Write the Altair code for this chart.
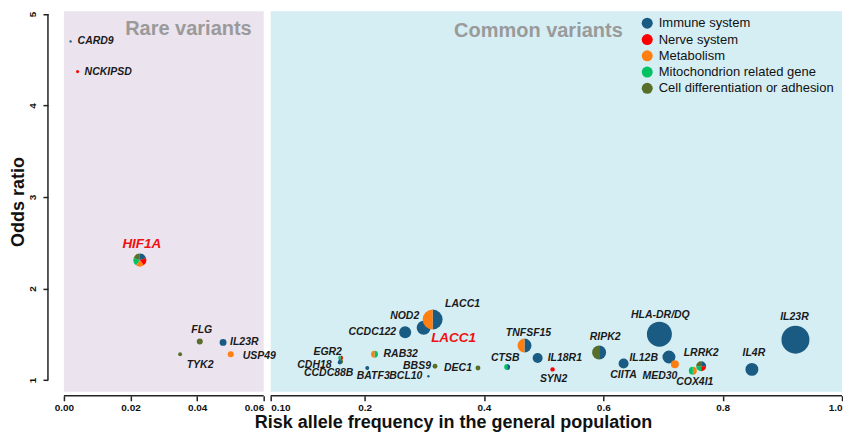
import altair as alt
import numpy as np
import pandas as pd

IMM = "Immune system"
NER = "Nerve system"
MET = "Metabolism"
MIT = "Mitochondrion related gene"
CEL = "Cell differentiation or adhesion"
CATEGORIES = [IMM, NER, MET, MIT, CEL]
CAT_COLORS = ["#1a5b83", "#fe0000", "#ff7f12", "#00c262", "#586f2a"]

# ---- rare variants (left panel) ----
rare_genes = ["CARD9", "NCKIPSD", "HIF1A", "FLG", "IL23R", "TYK2", "USP49"]
rare_freq = [0.002, 0.0041, 0.0228, 0.0408, 0.0478, 0.0349, 0.0501]
rare_or = [4.70, 4.37, 2.31, 1.42, 1.41, 1.28, 1.28]
rare_weight = [1.4, 2.3, 42, 9, 12, 4, 9]
rare_cats = [[IMM], [NER], [IMM, NER, MET, MIT, CEL], [CEL], [IMM], [CEL], [MET]]

# ---- common variants (right panel) ----
common_genes = ["EGR2", "CDH18", "CCDC88B", "BATF3", "RAB32", "CCDC122", "NOD2",
                "LACC1", "BBS9", "BCL10", "DEC1", "CTSB", "TNFSF15", "IL18R1",
                "SYN2", "RIPK2", "CIITA", "HLA-DR/DQ", "IL12B", "MED30", "COX4I1",
                "LRRK2", "IL4R", "IL23R"]
common_freq = [0.1745, 0.1745, 0.1735, 0.2045, 0.2167, 0.268, 0.299,
               0.314, 0.318, 0.307, 0.390, 0.439, 0.468, 0.490,
               0.515, 0.593, 0.634, 0.694, 0.710, 0.720, 0.750,
               0.764, 0.849, 0.922]
common_or = [1.24, 1.20, 1.19, 1.13, 1.28, 1.52, 1.57,
             1.66, 1.15, 1.04, 1.13, 1.14, 1.375, 1.24,
             1.115, 1.30, 1.18, 1.50, 1.25, 1.17, 1.10,
             1.15, 1.115, 1.44]
common_weight = [6, 6, 4, 4, 12, 36, 49,
                 100, 6, 1.4, 6, 9, 49, 25,
                 5, 49, 25, 156, 42, 16, 16,
                 25, 42, 196]
common_cats = [[NER, MIT], [CEL, IMM], [IMM], [IMM], [MIT, MET], [IMM], [IMM],
               [IMM, MET], [CEL], [IMM], [CEL], [IMM, MIT], [IMM, MET], [IMM],
               [NER], [IMM, CEL], [IMM], [IMM], [IMM], [MET], [MET, MIT],
               [IMM, NER, MIT, CEL], [IMM], [IMM]]

# axis ticks
x_ticks = [0, 0.02, 0.04, 0.06, 0.10, 0.2, 0.4, 0.6, 0.8, 1.0]
y_ticks = [1, 2, 3, 4, 5]

# label placement: (dx, dy, align) pixel offsets from each bubble, None = no black label
rare_label_layout = [(7, 0, "left"), (7, 0, "left"), None, (2, -11, "center"),
                     (7, 0, "left"), (20, 11, "center"), (12, 2, "left")]
common_label_layout = [(-13, -6, "center"), (-9, 3, "right"), (-11, 10, "center"),
                       (6, 8, "center"), (9, 0, "left"), (-9, 0, "right"),
                       (-19, -12, "center"), (30, -16, "center"), (-4, 0, "right"),
                       (-6, 0, "right"), (-6, 0, "right"), (-2, -9, "center"),
                       (4, -13, "center"), (10, 0, "left"), (1, 10, "center"),
                       (6, -15, "center"), (0, 12, "center"), (1, -19, "center"),
                       (-11, 1, "right"), (-15, 12, "center"), (2, 11, "center"),
                       (0, -13, "center"), (2, -16, "center"), (-1, -23, "center")]
# highlighted (red) labels: gene -> (dx, dy)
highlight_layout = {"HIF1A": (2, -16), "LACC1": (21, 18)}

FONT = "Liberation Sans"
AXIS_COLOR = "#222222"
W_PLOT, H_PLOT = 779, 381
X_DOMAIN = [0, 0.06, 0.10, 0.2, 1.0]
X_RANGE = [0, 200, 207, 301, 779]
Y_DOMAIN = [0.87, 5.03]
AX_OFFSET = 4

genes = rare_genes + common_genes
freq = rare_freq + common_freq
odds = rare_or + common_or
weight = rare_weight + common_weight
cats = rare_cats + common_cats
layout = rare_label_layout + common_label_layout

slice_rows, label_rows, hl_rows = [], [], []
for g, f, o, w, cs, lay in zip(genes, freq, odds, weight, cats, layout):
    n = len(cs)
    for i, c in enumerate(cs):
        slice_rows.append(dict(gene=g, freq=f, odds=o, weight=w, cat=c,
                               t0=2 * np.pi * i / n, t1=2 * np.pi * (i + 1) / n))
    if lay is not None:
        label_rows.append(dict(gene=g, freq=f, odds=o, dx=lay[0], dy=lay[1], align=lay[2]))
    if g in highlight_layout:
        dx, dy = highlight_layout[g]
        hl_rows.append(dict(gene=g, freq=f, odds=o, dx=dx, dy=dy, align="center"))

slices_df = pd.DataFrame(slice_rows)
labels_df = pd.DataFrame(label_rows)
hl_df = pd.DataFrame(hl_rows)

xs = alt.Scale(domain=X_DOMAIN, range=X_RANGE, nice=False, zero=False)
ys = alt.Scale(domain=Y_DOMAIN, nice=False, zero=False)
cscale = alt.Scale(domain=CATEGORIES, range=CAT_COLORS)
rscale = alt.Scale(type="sqrt", domain=[0, 196], range=[0, 14])

x_label_align = {
    "condition": [
        {"test": "datum.value > 0.055 && datum.value < 0.07", "value": "right"},
        {"test": "datum.value > 0.09 && datum.value < 0.15", "value": "left"},
        {"test": "datum.value > 0.95", "value": "right"},
    ],
    "value": "center",
}
x_axis = alt.Axis(
    values=x_ticks, domain=False, offset=AX_OFFSET, labelOverlap=False,
    labelExpr="datum.value <= 0.065 ? format(datum.value, '.2f') : "
              "(datum.value < 0.15 ? '0.10' : format(datum.value, '.1f'))",
    labelAlign=x_label_align, labelPadding=2,
    title="Risk allele frequency in the general population", titlePadding=1,
)
y_axis = alt.Axis(
    values=y_ticks, format="d", title="Odds ratio", offset=16, domain=False,
    labelAngle=270, labelPadding=5, titlePadding=0,
)

ext = pd.DataFrame({"a": [0]})

bg_left = alt.Chart(ext).mark_rect(color="#ebe3ed").encode(
    x=alt.datum(0, scale=xs), x2=alt.datum(0.06),
    y=alt.datum(Y_DOMAIN[0], scale=ys), y2=alt.datum(Y_DOMAIN[1]))
bg_right = alt.Chart(ext).mark_rect(color="#d5eef4").encode(
    x=alt.datum(0.10), x2=alt.datum(1.0),
    y=alt.datum(Y_DOMAIN[0]), y2=alt.datum(Y_DOMAIN[1]))

rule_style = dict(color=AXIS_COLOR, strokeWidth=1.5)
x_line_left = alt.Chart(ext).mark_rule(**rule_style).encode(
    x=alt.datum(0), x2=alt.datum(0.06), y=alt.value(H_PLOT + AX_OFFSET))
x_line_right = alt.Chart(ext).mark_rule(**rule_style).encode(
    x=alt.datum(0.10), x2=alt.datum(1.0), y=alt.value(H_PLOT + AX_OFFSET))
y_line = alt.Chart(ext).mark_rule(**rule_style).encode(
    x=alt.value(-16), y=alt.datum(1), y2=alt.datum(5))

legend = alt.Legend(
    title=None, orient="none", legendX=577.5, legendY=5.5, symbolType="circle",
    symbolSize=121, symbolStrokeWidth=0, labelFont=FONT, labelFontSize=13,
    labelColor="#111111", rowPadding=2.3, labelOffset=5, padding=0, labelLimit=0,
)

arcs = alt.Chart(slices_df).mark_arc().encode(
    x=alt.X("freq:Q", scale=xs, axis=x_axis),
    y=alt.Y("odds:Q", scale=ys, axis=y_axis),
    theta=alt.Theta("t0:Q", scale=None),
    theta2=alt.Theta2("t1:Q"),
    radius=alt.Radius("weight:Q", scale=rscale),
    color=alt.Color("cat:N", scale=cscale, legend=legend),
)


def text_layer(df, size, col):
    return alt.Chart(df).mark_text(
        baseline="middle", font=FONT, fontSize=size,
        fontStyle="italic", fontWeight="bold", color=col,
        align=alt.expr("datum.align"),
        dx=alt.expr("datum.dx"), dy=alt.expr("datum.dy"),
    ).encode(x="freq:Q", y="odds:Q", text="gene:N")


gene_labels = text_layer(labels_df, 10.5, "#1a1a1a")
red_labels = text_layer(hl_df, 13.5, "#f01010")

header_style = dict(baseline="alphabetic", font=FONT, fontSize=20,
                    fontWeight="bold", color="#9a9a9a")
header_left = alt.Chart(ext).mark_text(align="right", **header_style).encode(
    x=alt.datum(0.0564), y=alt.datum(4.773), text=alt.value("Rare variants"))
header_right = alt.Chart(ext).mark_text(align="left", **header_style).encode(
    x=alt.datum(0.35), y=alt.datum(4.745), text=alt.value("Common variants"))

chart = alt.layer(
    bg_left, bg_right, x_line_left, x_line_right, y_line,
    arcs, gene_labels, red_labels, header_left, header_right,
).properties(
    width=W_PLOT, height=H_PLOT,
    padding={"left": 2, "top": 2, "right": 0, "bottom": 0},
).configure_view(stroke=None).configure_axis(
    labelFont=FONT, labelFontSize=10, labelFontWeight="bold", labelColor="#111111",
    titleFont=FONT, titleFontSize=18, titleFontWeight="bold", titleColor="#111111",
    tickColor=AXIS_COLOR, tickWidth=1.5, tickSize=5, grid=False,
)

chart.save("out.html", embed_options={"renderer": "svg", "actions": False})
